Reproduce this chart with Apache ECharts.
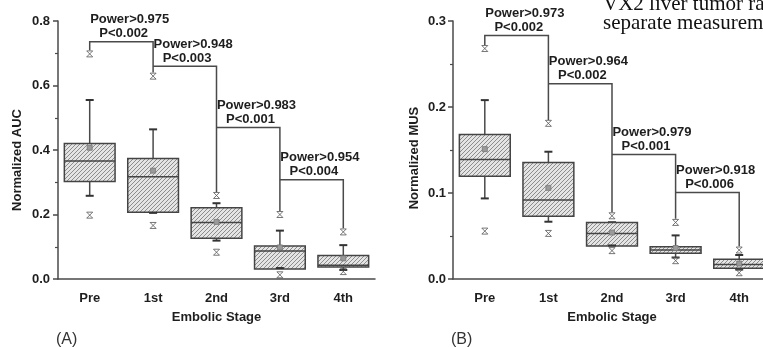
<!DOCTYPE html>
<html>
<head>
<meta charset="utf-8">
<script src="https://cdn.jsdelivr.net/npm/echarts@6/dist/echarts.min.js"></script>
<style>
html,body{margin:0;padding:0;background:#fff;}
#c{width:763px;height:347px;}
</style>
</head>
<body>
<div id="c"></div>
<script>
// ---------- data ----------
const categories = ['Pre', '1st', '2nd', '3rd', '4th'];

// Panel A: Normalized AUC
const aLow   = [0.258, 0.205, 0.119, 0.034, 0.028];
const aQ1    = [0.302, 0.207, 0.126, 0.031, 0.037];
const aMed   = [0.366, 0.317, 0.175, 0.087, 0.043];
const aQ3    = [0.420, 0.374, 0.221, 0.102, 0.073];
const aHigh  = [0.555, 0.464, 0.235, 0.150, 0.105];
const aMean  = [0.407, 0.336, 0.177, 0.098, 0.064];
const aOutHigh = [0.698, 0.629, 0.259, 0.200, 0.146];
const aOutLow  = [0.198, 0.166, 0.083, 0.013, 0.023];
// brackets: [fromIdx, toIdx, level, leftEnd, rightEnd]
const aBrackets = [[0, 1, 0.736, 0.709, 0.640], [1, 2, 0.660, 0.660, 0.270], [2, 3, 0.470, 0.470, 0.211], [3, 4, 0.308, 0.308, 0.157]];
const aPower = ['Power>0.975', 'Power>0.948', 'Power>0.983', 'Power>0.954'];
const aP     = ['P<0.002', 'P<0.003', 'P<0.001', 'P<0.004'];
const aTicks = [0, 0.2, 0.4, 0.6, 0.8];

// Panel B: Normalized MUS
const bLow   = [0.0937, 0.0666, 0.039, 0.025, 0.011];
const bQ1    = [0.1196, 0.073, 0.0383, 0.0298, 0.0124];
const bMed   = [0.139, 0.0918, 0.053, 0.0337, 0.017];
const bQ3    = [0.168, 0.1355, 0.0658, 0.0375, 0.0229];
const bHigh  = [0.208, 0.148, 0.066, 0.0507, 0.0279];
const bMean  = [0.151, 0.106, 0.054, 0.036, 0.018];
const bOutHigh = [0.268, 0.181, 0.0735, 0.0658, 0.0337];
const bOutLow  = [0.0557, 0.053, 0.033, 0.0213, 0.0073];
const bBrackets = [[0, 1, 0.283, 0.272, 0.185], [1, 2, 0.227, 0.227, 0.0775], [2, 3, 0.1448, 0.1448, 0.070], [3, 4, 0.1007, 0.1007, 0.038]];
const bPower = ['Power>0.973', 'Power>0.964', 'Power>0.979', 'Power>0.918'];
const bP     = ['P<0.002', 'P<0.002', 'P<0.001', 'P<0.006'];
const bTicks = [0, 0.1, 0.2, 0.3];

// ---------- styling helpers ----------
const FONT = '"Liberation Sans", Arial, Helvetica, sans-serif';
const SERIF = '"Liberation Serif", "Times New Roman", serif';
const AXIS = '#4a4a4a';
const TXT = '#1e1e1e';

const pc = document.createElement('canvas');
pc.width = 4; pc.height = 4;
const g = pc.getContext('2d');
g.fillStyle = '#e4e4e4'; g.fillRect(0, 0, 4, 4);
g.strokeStyle = '#8c8c8c'; g.lineWidth = 1;
g.beginPath();
g.moveTo(0, 4); g.lineTo(4, 0);
g.moveTo(-1, 1); g.lineTo(1, -1);
g.moveTo(3, 5); g.lineTo(5, 3);
g.stroke();
const hatch = { image: pc, repeat: 'repeat' };

function boxRows(low, q1, med, q3, high, mean) {
  return categories.map((c, i) => [i, low[i], q1[i], med[i], q3[i], high[i], mean[i]]);
}
function outRows(hi, lo) {
  const r = [];
  hi.forEach((v, i) => r.push([i, v]));
  lo.forEach((v, i) => r.push([i, v]));
  return r;
}

function renderBox(params, api) {
  const x = api.value(0);
  const pLow = api.coord([x, api.value(1)]);
  const pQ1 = api.coord([x, api.value(2)]);
  const pMed = api.coord([x, api.value(3)]);
  const pQ3 = api.coord([x, api.value(4)]);
  const pHigh = api.coord([x, api.value(5)]);
  const pMean = api.coord([x, api.value(6)]);
  const hw = api.size([1, 0])[0] * 0.4;
  const cx = pQ1[0];
  const cap = 4;
  const ls = { stroke: AXIS, lineWidth: 1.5 };
  const children = [
    { type: 'line', shape: { x1: cx, y1: pQ3[1], x2: cx, y2: pHigh[1] }, style: ls },
    { type: 'line', shape: { x1: cx, y1: pQ1[1], x2: cx, y2: pLow[1] }, style: ls },
    { type: 'line', shape: { x1: cx - cap, y1: pHigh[1], x2: cx + cap, y2: pHigh[1] }, style: { stroke: '#333', lineWidth: 2 } },
    { type: 'rect', shape: { x: cx - hw, y: pQ3[1], width: hw * 2, height: pQ1[1] - pQ3[1] },
      style: { fill: hatch, stroke: '#444', lineWidth: 1.5 } },
    { type: 'line', shape: { x1: cx - hw, y1: pMed[1], x2: cx + hw, y2: pMed[1] }, style: { stroke: '#444', lineWidth: 1.5 } },
    { type: 'line', shape: { x1: cx - cap, y1: pLow[1], x2: cx + cap, y2: pLow[1] }, style: { stroke: '#333', lineWidth: 2 } },
    { type: 'rect', shape: { x: cx - 2.5, y: pMean[1] - 2.5, width: 5, height: 5 }, style: { fill: '#9a9a9a', stroke: '#777', lineWidth: 0.8 } }
  ];
  return { type: 'group', children: children };
}

function makeBracketRenderer(powers, ps) {
  return function (params, api) {
    const from = api.value(0), to = api.value(1), lvl = api.value(2), le = api.value(3), re = api.value(4);
    const p1 = api.coord([from, le]);
    const p2 = api.coord([from, lvl]);
    const p3 = api.coord([to, lvl]);
    const p4 = api.coord([to, re]);
    const i = params.dataIndex;
    return {
      type: 'group',
      children: [
        { type: 'polyline', shape: { points: [p1, p2, p3, p4] }, style: { stroke: AXIS, lineWidth: 1.5, fill: null } },
        { type: 'text', style: { text: powers[i], x: p2[0] + 40, y: p2[1] - 22, align: 'center', verticalAlign: 'middle',
          font: 'bold 13px ' + FONT, fill: TXT } },
        { type: 'text', style: { text: ps[i], x: p2[0] + 34, y: p2[1] - 8, align: 'center', verticalAlign: 'middle',
          font: 'bold 13px ' + FONT, fill: TXT } }
      ]
    };
  };
}

function xAxisCfg(gi) {
  return {
    type: 'category', gridIndex: gi, data: categories,
    boundaryGap: true,
    axisLine: { lineStyle: { color: AXIS, width: 1.5 } },
    axisTick: { alignWithLabel: true, length: 5, lineStyle: { color: AXIS, width: 1.5 } },
    axisLabel: { color: TXT, fontWeight: 'bold', fontSize: 13, fontFamily: FONT, margin: 13 },
    name: 'Embolic Stage', nameLocation: 'middle', nameGap: 32,
    nameTextStyle: { color: TXT, fontWeight: 'bold', fontSize: 13, fontFamily: FONT },
    splitLine: { show: false }
  };
}
function yAxisCfg(gi, ticks, margin) {
  const iv = ticks[1] - ticks[0];
  return {
    type: 'value', gridIndex: gi, min: ticks[0], max: ticks[ticks.length - 1], interval: iv,
    axisLine: { show: true, lineStyle: { color: AXIS, width: 1.5 } },
    axisTick: { show: true, length: 5, lineStyle: { color: AXIS, width: 1.5 } },
    minorTick: { show: true, splitNumber: 2, length: 3, lineStyle: { color: AXIS, width: 1.2 } },
    axisLabel: { color: TXT, fontWeight: 'bold', fontSize: 13, fontFamily: FONT, margin: margin,
      formatter: v => v.toFixed(1) },
    splitLine: { show: false }, minorSplitLine: { show: false }
  };
}
const outlierSymbol = 'path://M0,0L10,0M0,10L10,10M0,0L10,10M10,0L0,10';

const chart = echarts.init(document.getElementById('c'), null, { renderer: 'canvas' });
chart.setOption({
  animation: false,
  backgroundColor: '#ffffff',
  grid: [
    { left: 58, top: 21, width: 317, height: 258, outerBoundsMode: 'none', containLabel: false },
    { left: 453, top: 21, width: 318, height: 258, outerBoundsMode: 'none', containLabel: false }
  ],
  xAxis: [xAxisCfg(0), xAxisCfg(1)],
  yAxis: [yAxisCfg(0, aTicks, 8), yAxisCfg(1, bTicks, 7)],
  series: [
    { type: 'custom', xAxisIndex: 0, yAxisIndex: 0, renderItem: renderBox,
      encode: { x: 0, y: [1, 2, 3, 4, 5, 6] }, data: boxRows(aLow, aQ1, aMed, aQ3, aHigh, aMean), z: 3 },
    { type: 'scatter', xAxisIndex: 0, yAxisIndex: 0, data: outRows(aOutHigh, aOutLow), symbol: outlierSymbol, symbolSize: 6,
      itemStyle: { color: 'rgba(0,0,0,0)', borderColor: '#555', borderWidth: 1 }, z: 4 },
    { type: 'custom', xAxisIndex: 0, yAxisIndex: 0, renderItem: makeBracketRenderer(aPower, aP),
      encode: { x: [0, 1], y: [2, 3, 4] }, data: aBrackets, z: 2 },

    { type: 'custom', xAxisIndex: 1, yAxisIndex: 1, renderItem: renderBox,
      encode: { x: 0, y: [1, 2, 3, 4, 5, 6] }, data: boxRows(bLow, bQ1, bMed, bQ3, bHigh, bMean), z: 3 },
    { type: 'scatter', xAxisIndex: 1, yAxisIndex: 1, data: outRows(bOutHigh, bOutLow), symbol: outlierSymbol, symbolSize: 6,
      itemStyle: { color: 'rgba(0,0,0,0)', borderColor: '#555', borderWidth: 1 }, z: 4 },
    { type: 'custom', xAxisIndex: 1, yAxisIndex: 1, renderItem: makeBracketRenderer(bPower, bP),
      encode: { x: [0, 1], y: [2, 3, 4] }, data: bBrackets, z: 2 }
  ],
  graphic: [
    { type: 'text', x: 17, y: 160, rotation: Math.PI / 2,
      style: { text: 'Normalized AUC', font: 'bold 13px ' + FONT, fill: TXT, align: 'center', verticalAlign: 'middle' } },
    { type: 'text', x: 414, y: 158, rotation: Math.PI / 2,
      style: { text: 'Normalized MUS', font: 'bold 13px ' + FONT, fill: TXT, align: 'center', verticalAlign: 'middle' } },
    { type: 'text', x: 56, y: 340,
      style: { text: '(A)', font: '16px ' + FONT, fill: '#333', align: 'left', verticalAlign: 'middle' } },
    { type: 'text', x: 451, y: 340,
      style: { text: '(B)', font: '16px ' + FONT, fill: '#333', align: 'left', verticalAlign: 'middle' } },
    { type: 'text', x: 603, y: 4,
      style: { text: 'VX2 liver tumor ra', font: '21px ' + SERIF, fill: '#111', align: 'left', verticalAlign: 'middle' } },
    { type: 'text', x: 603, y: 23,
      style: { text: 'separate measurem', font: '21px ' + SERIF, fill: '#111', align: 'left', verticalAlign: 'middle' } }
  ]
});
</script>
</body>
</html>
